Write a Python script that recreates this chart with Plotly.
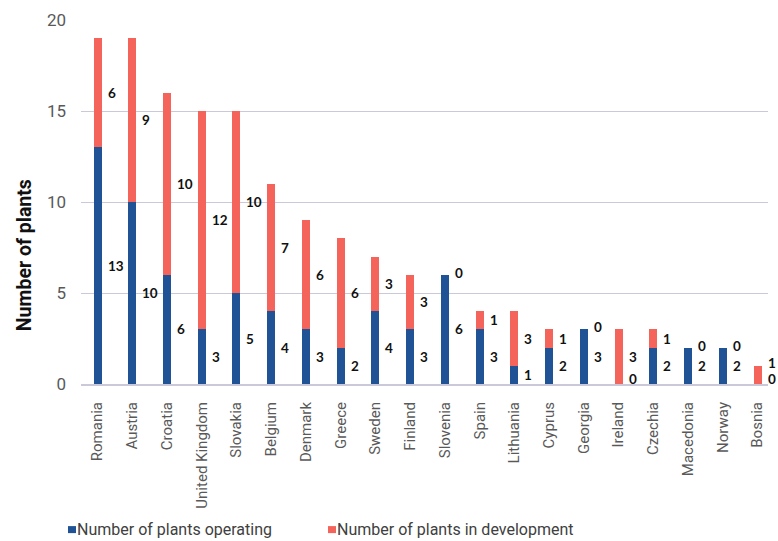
import plotly.graph_objects as go

countries = ["Romania", "Austria", "Croatia", "United Kingdom", "Slovakia", "Belgium",
             "Denmark", "Greece", "Sweden", "Finland", "Slovenia", "Spain", "Lithuania",
             "Cyprus", "Georgia", "Ireland", "Czechia", "Macedonia", "Norway", "Bosnia"]
operating = [13, 10, 6, 3, 5, 4, 3, 2, 4, 3, 6, 3, 1, 2, 3, 0, 2, 2, 2, 0]
development = [6, 9, 10, 12, 10, 7, 6, 6, 3, 3, 0, 1, 3, 1, 0, 3, 1, 0, 0, 1]

BLUE = "#1F5396"
RED = "#F4645A"
GRID = "#C9C9D9"
TICK_GREY = "#595959"
LABEL_FONT = dict(family="Lato, Roboto, sans-serif", size=13.5, color="#111111", weight="bold")

fig = go.Figure()
fig.add_trace(go.Bar(x=countries, y=operating, name="Number of plants operating",
                     marker=dict(color=BLUE, line=dict(width=0)), width=0.23,
                     showlegend=False, hoverinfo="x+y"))
fig.add_trace(go.Bar(x=countries, y=development, name="Number of plants in development",
                     marker=dict(color=RED, line=dict(width=0)), width=0.23,
                     showlegend=False, hoverinfo="x+y"))

# value labels sit just right of each stacked segment
annotations = []
for c, op, dev in zip(countries, operating, development):
    if op > 0:
        op_y, op_shift = op / 2, 0
    else:
        op_y, op_shift = 0, 5
    annotations.append(dict(x=c, y=op_y, xref="x", yref="y", text=str(op),
                            showarrow=False, xanchor="left", yanchor="middle",
                            xshift=8, yshift=op_shift, font=LABEL_FONT))
    if dev > 0:
        # keep clear of the operating label when that one sits on the baseline
        op_label = op_y + (0.27 if op == 0 else 0)
        dev_y = max(op + dev / 2, op_label + 0.9)
        dev_shift = 0
    else:
        dev_y, dev_shift = op, 2
    annotations.append(dict(x=c, y=dev_y, xref="x", yref="y", text=str(dev),
                            showarrow=False, xanchor="left", yanchor="middle",
                            xshift=8, yshift=dev_shift, font=LABEL_FONT))

# y-axis title
annotations.append(dict(x=0, y=0.354, xref="paper", yref="paper", text="Number of plants",
                        textangle=-90, showarrow=False, xanchor="center", yanchor="middle",
                        xshift=-57,
                        font=dict(family="Roboto, sans-serif", size=19.5,
                                  color="#111111", weight="bold")))

# legend entries along the bottom
legend_items = [("Number of plants operating", BLUE, -13),
                ("Number of plants in development", RED, 247)]
shapes = []
for label, color, px in legend_items:
    shapes.append(dict(type="rect", xref="paper", yref="paper",
                       xsizemode="pixel", ysizemode="pixel",
                       xanchor=0, yanchor=-0.40,
                       x0=px, x1=px + 8, y0=-3.5, y1=3.5,
                       fillcolor=color, line=dict(width=0)))
    annotations.append(dict(x=0, y=-0.40, xref="paper", yref="paper", text=label,
                            showarrow=False, xanchor="left", yanchor="middle",
                            xshift=px + 7, font=dict(family="Roboto, sans-serif",
                                                     size=16, color="#404040")))

fig.update_layout(
    barmode="stack",
    width=778, height=541,
    margin=dict(l=81, r=10, t=17, b=157),
    paper_bgcolor="white", plot_bgcolor="white",
    annotations=annotations,
    shapes=shapes,
    showlegend=False,
    xaxis=dict(range=[-0.475, 19.3], tickangle=-90,
               tickfont=dict(family="Roboto, sans-serif", size=15, color=TICK_GREY),
               showgrid=False, showline=True, linecolor=GRID, linewidth=2,
               ticks="", ticklabelstandoff=10),
    yaxis=dict(range=[0, 20], tickvals=[0, 5, 10, 15, 20],
               tickfont=dict(family="Roboto, sans-serif", size=17, color=TICK_GREY),
               showgrid=True, gridcolor=GRID, gridwidth=1, zeroline=False,
               showline=False, ticks="", ticklabelstandoff=14),
)

fig.write_html("out.html")
